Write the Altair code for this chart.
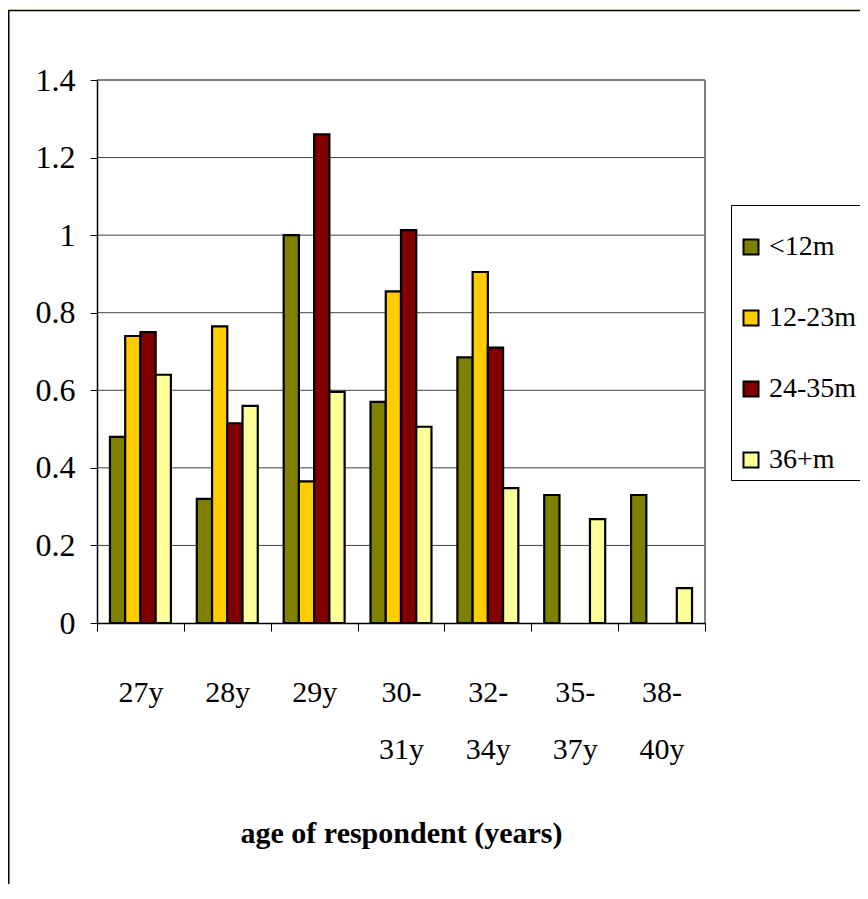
import altair as alt
import pandas as pd

ages = ["27y", "28y", "29y", "30-31y", "32-34y", "35-37y", "38-40y"]
series = ["<12m", "12-23m", "24-35m", "36+m"]
colors = ["#808000", "#FFCC00", "#800000", "#FFFF99"]

lt12 = [0.48, 0.32, 1.0, 0.57, 0.685, 0.33, 0.33]
m12_23 = [0.74, 0.765, 0.365, 0.855, 0.905, None, None]
m24_35 = [0.75, 0.515, 1.26, 1.013, 0.71, None, None]
m36p = [0.64, 0.56, 0.596, 0.506, 0.348, 0.268, 0.09]

y_ticks = [0, 0.2, 0.4, 0.6, 0.8, 1.0, 1.2, 1.4]

rows = []
for s, vals in zip(series, [lt12, m12_23, m24_35, m36p]):
    for a, v in zip(ages, vals):
        if v is not None:
            rows.append({"age": a, "series": s, "value": v})
df = pd.DataFrame(rows)
grid_df = pd.DataFrame({"value": y_ticks[1:-1]})
top_df = pd.DataFrame({"value": y_ticks[-1:]})

W, H = 608, 543
PL, PT = 89, 72
SVG_W, SVG_H = 852, 876
FONT = "Liberation Serif"

bg = alt.Chart(pd.DataFrame({"a": [0]})).mark_rect(
    fill="white", stroke="black", strokeWidth=1.5
).encode(
    x=alt.value(-PL + 0.75),
    x2=alt.value(SVG_W - PL + 20),
    y=alt.value(-PT + 2.5),
    y2=alt.value(SVG_H - PT + 20),
)

yscale = alt.Scale(domain=[0, 1.4], nice=False)
yaxis = alt.Axis(
    values=y_ticks,
    format="~g",
    title=None,
    tickSize=7,
    tickColor="black",
    domainColor="black",
    domainWidth=1.5,
    labelFont=FONT,
    labelFontSize=32,
    labelColor="black",
    labelPadding=15,
    grid=False,
    zindex=1,
)

grid = alt.Chart(grid_df).mark_rule(color="#404040", strokeWidth=1).encode(
    y=alt.Y("value:Q", scale=yscale, axis=yaxis)
)

frame_top = alt.Chart(top_df).mark_rule(color="#808080", strokeWidth=2).encode(
    y=alt.Y("value:Q", scale=yscale, axis=yaxis)
)
frame_right = alt.Chart(pd.DataFrame({"a": [0]})).mark_rule(
    color="#808080", strokeWidth=2
).encode(x=alt.value(W), y=alt.value(0), y2=alt.value(H))

label_expr = (
    "indexof(datum.label, '-') > 0 ? "
    "[slice(datum.label, 0, indexof(datum.label, '-') + 1), "
    "slice(datum.label, indexof(datum.label, '-') + 1)] : datum.label"
)

bars = alt.Chart(df).mark_bar(stroke="black", strokeWidth=2.2).encode(
    x=alt.X(
        "age:N",
        sort=ages,
        scale=alt.Scale(paddingInner=0, paddingOuter=0),
        axis=alt.Axis(
            title="age of respondent (years)",
            labelAngle=0,
            tickBand="extent",
            tickSize=8,
            tickColor="black",
            domainColor="black",
            domainWidth=1.5,
            labelFont=FONT,
            labelFontSize=30,
            labelColor="black",
            labelBaseline="top",
            labelPadding=46,
            labelLineHeight=57,
            labelExpr=label_expr,
            titleFont=FONT,
            titleFontSize=30,
            titleFontWeight="bold",
            titleColor="black",
            titleBaseline="alphabetic",
            titleY=219,
            grid=False,
            zindex=1,
        ),
    ),
    xOffset=alt.XOffset(
        "series:N", sort=series, scale=alt.Scale(paddingInner=0, paddingOuter=0.85)
    ),
    y=alt.Y("value:Q", scale=yscale, axis=yaxis),
    color=alt.Color(
        "series:N",
        sort=series,
        scale=alt.Scale(domain=series, range=colors),
        legend=alt.Legend(
            orient="none",
            legendX=634,
            legendY=125,
            title=" ",
            titleFontSize=8,
            titlePadding=14,
            padding=6,
            strokeColor="black",
            fillColor="white",
            symbolType="square",
            symbolSize=225,
            symbolStrokeColor="black",
            symbolStrokeWidth=2,
            labelFont=FONT,
            labelFontSize=28,
            labelColor="black",
            labelOffset=4,
            rowPadding=43,
            labelLimit=300,
        ),
    ),
)

chart = (
    alt.layer(bg, grid, frame_top, frame_right, bars)
    .properties(
        width=W,
        height=H,
        autosize=alt.AutoSizeParams(type="none"),
        padding={"left": PL, "top": PT, "right": SVG_W - PL - W, "bottom": SVG_H - PT - H},
    )
    .configure(background="#FFFFE6", font=FONT)
    .configure_axis(labelFont=FONT, titleFont=FONT)
    .configure_legend(labelFont=FONT, titleFont=FONT)
    .configure_view(stroke="#808080", strokeWidth=1.5)
)

chart.save("out.html", embed_options={"renderer": "svg", "actions": False})
